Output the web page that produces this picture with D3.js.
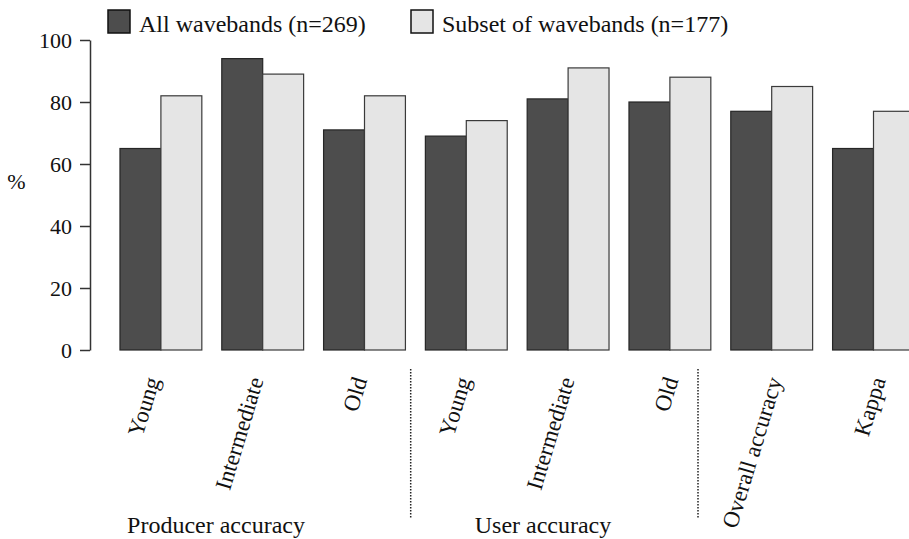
<!DOCTYPE html>
<html>
<head>
<meta charset="utf-8">
<script src="https://cdn.jsdelivr.net/npm/d3@7"></script>
<style>
  body { margin: 0; background: #fff; }
</style>
</head>
<body>
<svg id="chart" width="909" height="539"></svg>
<script>
// categories along the x axis (trailing space keeps the band keys unique)
const categories = ["Young", "Intermediate", "Old", "Young ", "Intermediate ", "Old ", "Overall accuracy", "Kappa"];
const seriesNames = ["All wavebands (n=269)", "Subset of wavebands (n=177)"];
const allWavebands = [65, 94, 71, 69, 81, 80, 77, 65];
const subsetWavebands = [82, 89, 82, 74, 91, 88, 85, 77];
const yTicks = [0, 20, 40, 60, 80, 100];
const groupLabels = ["Producer accuracy", "User accuracy"];

const FONT = "Liberation Serif";
const colors = ["#4d4d4d", "#e5e5e5"];
const strokes = ["#262626", "#3a3a3a"];

const svg = d3.select("#chart");

const y = d3.scaleLinear().domain([0, 100]).range([350, 40]);

const x = d3.scaleBand()
    .domain(categories)
    .range([110, 924.4])
    .paddingInner(0.196)
    .paddingOuter(0.098);

const xs = d3.scaleBand()
    .domain([0, 1])
    .range([0, x.bandwidth()]);

// label anchors sit on a slightly wider spacing than the bars
const xl = d3.scalePoint()
    .domain(categories)
    .range([160, 886]);

const rows = categories.map((c, i) => ({ cat: c, values: [allWavebands[i], subsetWavebands[i]] }));

// bars
const groups = svg.selectAll("g.group")
    .data(rows)
    .enter()
    .append("g")
      .attr("class", "group")
      .attr("transform", (d) => `translate(${x(d.cat)},0)`);

groups.selectAll("rect")
    .data((d) => d.values.map((v, k) => ({ v, k })))
    .enter()
    .append("rect")
      .attr("x", (d) => xs(d.k))
      .attr("y", (d) => y(d.v))
      .attr("width", xs.bandwidth())
      .attr("height", (d) => y(0) - y(d.v))
      .style("fill", (d) => colors[d.k])
      .style("stroke", (d) => strokes[d.k])
      .style("stroke-width", 1.2);

// y axis
const yAxis = svg.append("g")
    .attr("transform", "translate(90,0)")
    .call(d3.axisLeft(y).tickValues(yTicks).tickSize(10).tickSizeOuter(0).tickPadding(8))
    .attr("font-family", FONT)
    .attr("font-size", 22);

yAxis.select(".domain").style("stroke", "#333").style("stroke-width", 1.5);
yAxis.selectAll(".tick line").style("stroke", "#333").style("stroke-width", 1.5);
yAxis.selectAll(".tick text").attr("fill", "#111");

svg.append("text")
    .attr("x", 16.5)
    .attr("y", 189)
    .attr("text-anchor", "middle")
    .attr("font-family", FONT)
    .attr("font-size", 22)
    .attr("fill", "#111")
    .text("%");

// rotated category labels
svg.selectAll("text.cat")
    .data(rows)
    .enter()
    .append("text")
      .attr("class", "cat")
      .attr("text-anchor", "end")
      .attr("transform", (d) => `translate(${xl(d.cat)},380) rotate(-73)`)
      .attr("font-family", FONT)
      .attr("font-size", 23)
      .attr("fill", "#111")
      .text((d) => d.cat.trim());

// group labels
svg.selectAll("text.grp")
    .data(groupLabels)
    .enter()
    .append("text")
      .attr("class", "grp")
      .attr("x", (d, i) => [216, 543][i])
      .attr("y", 533)
      .attr("text-anchor", "middle")
      .attr("font-family", FONT)
      .attr("font-size", 24)
      .attr("fill", "#111")
      .text((d) => d);

// dotted separators
svg.selectAll("line.sep")
    .data([410.7, 698])
    .enter()
    .append("line")
      .attr("class", "sep")
      .attr("x1", (d) => d)
      .attr("x2", (d) => d)
      .attr("y1", 369)
      .attr("y2", 519)
      .style("stroke", "#222")
      .style("stroke-width", 1.5)
      .style("stroke-dasharray", "1.5,1.5");

// legend
const legend = svg.selectAll("g.legend")
    .data(seriesNames)
    .enter()
    .append("g")
      .attr("class", "legend")
      .attr("transform", (d, i) => `translate(${[108, 411][i]},10)`);

legend.append("rect")
    .attr("width", 22)
    .attr("height", 23)
    .style("fill", (d, i) => colors[i])
    .style("stroke", "#111")
    .style("stroke-width", 1.5);

legend.append("text")
    .attr("x", 31)
    .attr("y", 22)
    .attr("font-family", FONT)
    .attr("font-size", 24)
    .attr("fill", "#111")
    .text((d) => d);
</script>
</body>
</html>
